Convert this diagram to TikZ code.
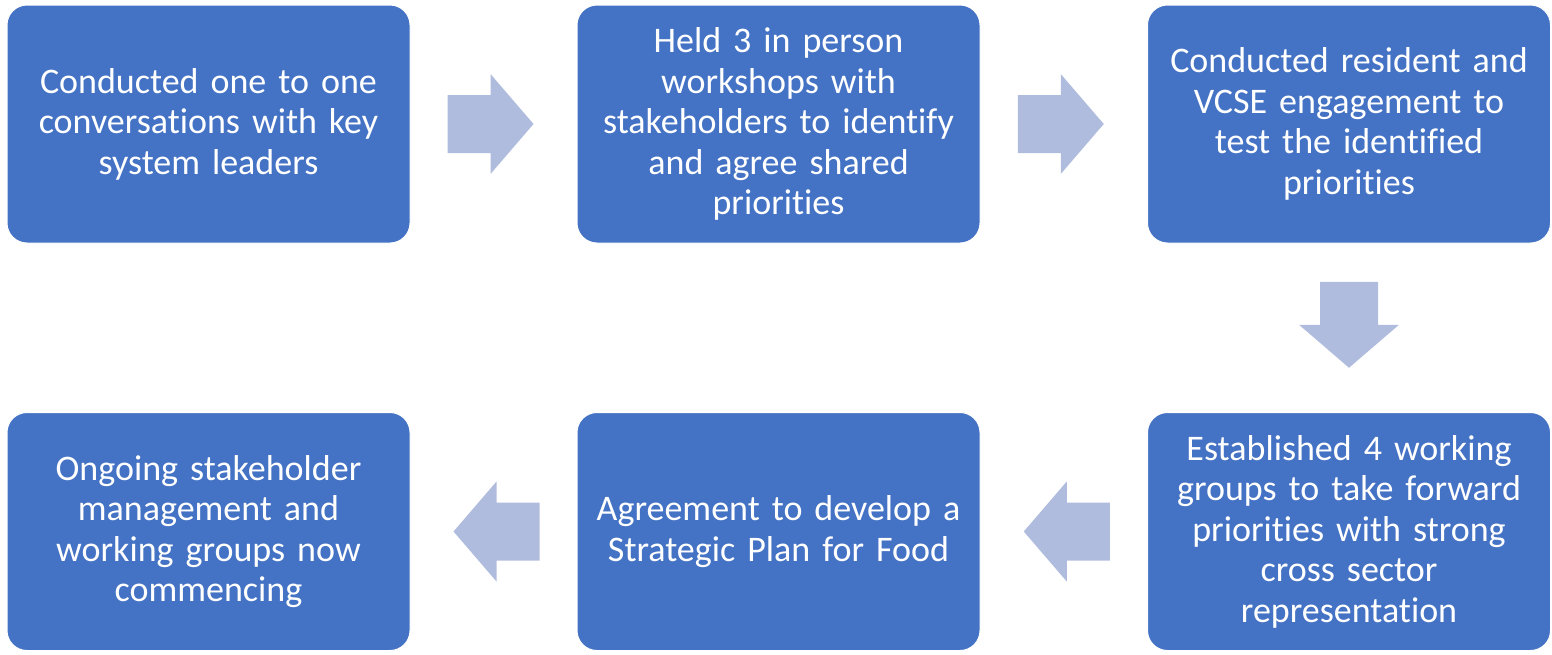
\documentclass[tikz,border=0pt]{standalone}
\usepackage{fontspec}
\setmainfont{Carlito}[Ligatures=NoCommon]
\usetikzlibrary{calc}
\definecolor{boxblue}{RGB}{68,114,196}
\definecolor{arrowblue}{RGB}{176,188,222}
\begin{document}
\begin{tikzpicture}[x=1pt,y=-1pt,
    stage/.style={draw=white, line width=1pt, fill=boxblue, rounded corners=20pt,
      minimum width=403pt, minimum height=238pt, text=white, text width=395pt,
      align=center, font=\fontsize{36}{40.5}\selectfont},
    flow/.pic={\fill[arrowblue] (-46,-29) -- (-3,-29) -- (-3,-50) -- (40,0)
      -- (-3,50) -- (-3,29) -- (-46,29) -- cycle;}]
  \useasboundingbox (0,0) rectangle (1552,654);
  % top row
  \node[stage] (s1) at (208.5,124) {Conducted one to one\\conversations with key\\system leaders};
  \node[stage] (s2) at (778.5,124) {Held 3 in person\\workshops with\\stakeholders to identify\\and agree shared\\priorities};
  \node[stage] (s3) at (1349,124) {Conducted resident and\\VCSE engagement to\\test the identified\\priorities};
  % bottom row
  \node[stage] (s4) at (1349,531.5) {Established 4 working\\groups to take forward\\priorities with strong\\cross sector\\representation};
  \node[stage] (s5) at (778.5,531.5) {Agreement to develop a\\Strategic Plan for Food};
  \node[stage] (s6) at (208.5,531.5) {Ongoing stakeholder\\management and\\working groups now\\commencing};
  % arrows between the stages
  \coordinate (a1) at ($(s1.east)!0.5!(s2.west)$);
  \coordinate (a2) at ($(s2.east)!0.5!(s3.west)$);
  \coordinate (a3) at ($(s3.south)!0.5!(s4.north)$);
  \coordinate (a4) at ($(s4.west)!0.5!(s5.east)$);
  \coordinate (a5) at ($(s5.west)!0.5!(s6.east)$);
  \pic at (a1) {flow};
  \pic at (a2) {flow};
  \pic[rotate=270] at (a3) {flow};
  \pic[rotate=180] at (a4) {flow};
  \pic[rotate=180] at (a5) {flow};
\end{tikzpicture}
\end{document}
